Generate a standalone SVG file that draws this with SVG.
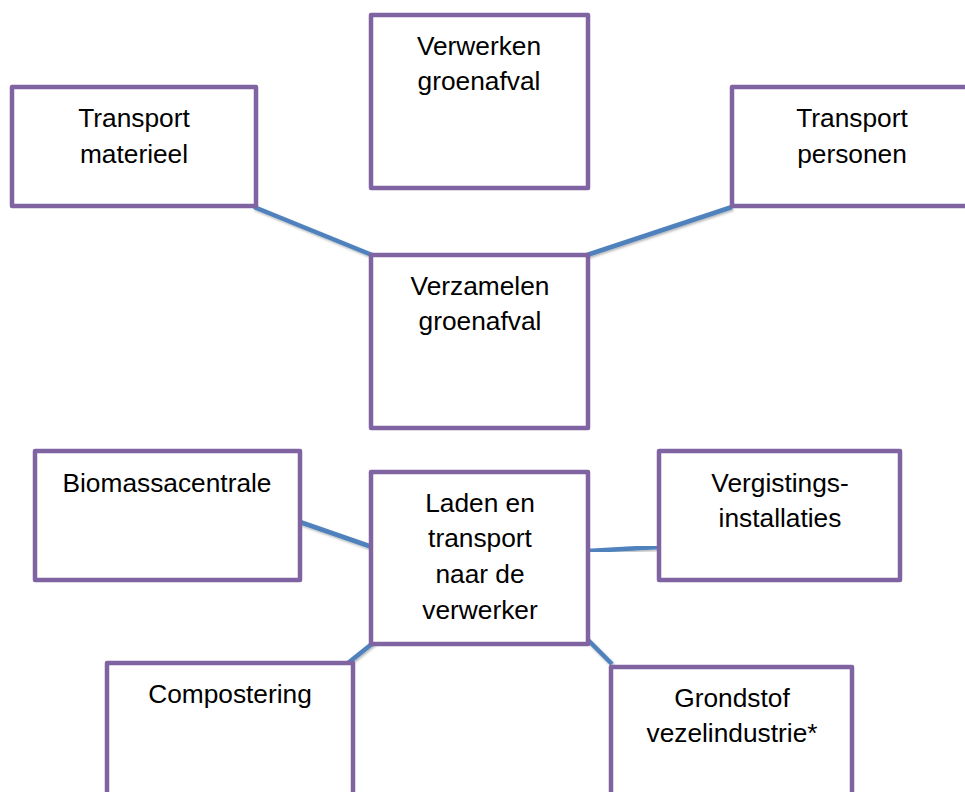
<svg xmlns="http://www.w3.org/2000/svg" width="965" height="792" viewBox="0 0 965 792">
<defs>
<filter id="sh" x="-20%" y="-20%" width="140%" height="140%">
<feDropShadow dx="1" dy="1.5" stdDeviation="1" flood-color="#000" flood-opacity="0.3"/>
</filter>
</defs>
<style>
.box{fill:#fff;stroke:#8064A2;stroke-width:4.5;stroke-linejoin:round}
.lbl{font-family:"Liberation Sans",Arial,sans-serif;font-size:26.3px;fill:#000;text-anchor:middle}
.con{stroke:#4F81BD;stroke-width:4.5;fill:none;filter:url(#sh)}
</style>
<rect width="965" height="792" fill="#fff"/>
<g id="connectors">
<line class="con" x1="254" y1="207" x2="372" y2="255"/>
<line class="con" x1="732" y1="207" x2="587" y2="255"/>
<line class="con" x1="492" y1="424" x2="492" y2="471"/>
<line class="con" x1="300" y1="522" x2="372" y2="547"/>
<line class="con" x1="588" y1="551" x2="658" y2="547"/>
<line class="con" x1="378" y1="639" x2="348" y2="663"/>
<line class="con" x1="588" y1="640" x2="612" y2="664"/>
</g>
<g id="transport-materieel">
<rect class="box" x="12" y="87" width="244" height="119"/>
<text class="lbl" x="134" y="127">Transport</text>
<text class="lbl" x="134" y="163">materieel</text>
</g>
<g id="verwerken-groenafval">
<rect class="box" x="371" y="15" width="217" height="173"/>
<text class="lbl" x="479" y="55">Verwerken</text>
<text class="lbl" x="479" y="90">groenafval</text>
</g>
<g id="transport-personen">
<rect class="box" x="732" y="87" width="240" height="119"/>
<text class="lbl" x="852" y="127">Transport</text>
<text class="lbl" x="852" y="163">personen</text>
</g>
<g id="verzamelen-groenafval">
<rect class="box" x="371" y="255" width="217" height="173"/>
<text class="lbl" x="480" y="295">Verzamelen</text>
<text class="lbl" x="480" y="330">groenafval</text>
</g>
<g id="laden-transport">
<rect class="box" x="371" y="472" width="217" height="172"/>
<text class="lbl" x="480" y="512">Laden en</text>
<text class="lbl" x="480" y="547">transport</text>
<text class="lbl" x="480" y="583">naar de</text>
<text class="lbl" x="480" y="619">verwerker</text>
</g>
<g id="biomassacentrale">
<rect class="box" x="35" y="451" width="265" height="129"/>
<text class="lbl" x="167" y="492">Biomassacentrale</text>
</g>
<g id="vergistingsinstallaties">
<rect class="box" x="659" y="451" width="241" height="129"/>
<text class="lbl" x="780" y="492">Vergistings-</text>
<text class="lbl" x="780" y="527">installaties</text>
</g>
<g id="compostering">
<rect class="box" x="107" y="663" width="246" height="140"/>
<text class="lbl" x="230" y="703">Compostering</text>
</g>
<g id="grondstof-vezelindustrie">
<rect class="box" x="611" y="667" width="241" height="140"/>
<text class="lbl" x="732" y="707">Grondstof</text>
<text class="lbl" x="732" y="742">vezelindustrie*</text>
</g>
</svg>
